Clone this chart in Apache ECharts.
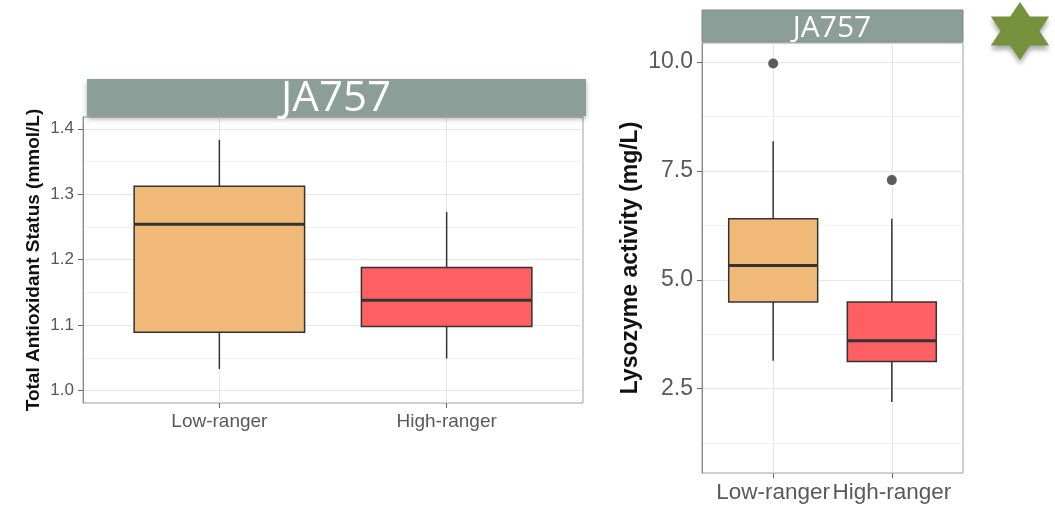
<!DOCTYPE html>
<html>
<head>
<meta charset="utf-8">
<script src="https://cdn.jsdelivr.net/npm/echarts@6/dist/echarts.min.js"></script>
<style>
html,body{margin:0;padding:0;background:#fff;}
#chart{width:1055px;height:506px;}
</style>
</head>
<body>
<div id="chart"></div>
<script>
// ---- data ----
const categories = ['Low-ranger', 'High-ranger'];
const panelTitle = 'JA757';
// [lower whisker, Q1, median, Q3, upper whisker]
const tasStats = [
  [1.033, 1.089, 1.254, 1.312, 1.383],
  [1.049, 1.098, 1.138, 1.188, 1.273]
];
const lysoStats = [
  [3.14, 4.49, 5.33, 6.40, 8.18],
  [2.19, 3.12, 3.60, 4.49, 6.40]
];
const lysoOutliers = [[1, 9.97], [2, 7.29]];
const tasTicks = [1.0, 1.1, 1.2, 1.3, 1.4];
const tasMinor = [1.05, 1.15, 1.25, 1.35];
const lysoTicks = [2.5, 5.0, 7.5, 10.0];
const lysoMinor = [1.25, 3.75, 6.25, 8.75];
const catPositions = [1, 2];

// ---- styles ----
const boxColors = ['#F0B978', '#FD5F62'];
const stripColor = '#8B9E98';
const labelColor = '#595959';
const gridMajor = '#E6E6E6';
const gridMinor = '#F3F3F3';
const FONT = 'Liberation Sans, Arial, sans-serif';

function boxRender(params, api) {
  const x = api.value(0);
  const lo = api.coord([x, api.value(1)]);
  const q1 = api.coord([x, api.value(2)]);
  const md = api.coord([x, api.value(3)]);
  const q3 = api.coord([x, api.value(4)]);
  const hi = api.coord([x, api.value(5)]);
  const w = api.size([0.75, 0])[0];
  const cx = q1[0];
  const stroke = '#333333';
  return {
    type: 'group',
    children: [
      {type: 'line', shape: {x1: cx, y1: hi[1], x2: cx, y2: q3[1]}, style: {stroke: stroke, lineWidth: 1.5}},
      {type: 'line', shape: {x1: cx, y1: q1[1], x2: cx, y2: lo[1]}, style: {stroke: stroke, lineWidth: 1.5}},
      {type: 'rect', shape: {x: cx - w / 2, y: q3[1], width: w, height: q1[1] - q3[1]},
        style: {fill: boxColors[params.dataIndex], stroke: stroke, lineWidth: 1.5}},
      {type: 'line', shape: {x1: cx - w / 2, y1: md[1], x2: cx + w / 2, y2: md[1]}, style: {stroke: stroke, lineWidth: 3}}
    ]
  };
}

function xAxisCfg(gridIndex, fontSize, margin) {
  return {
    type: 'value', gridIndex: gridIndex, min: 0.4, max: 2.6,
    axisLine: {show: false},
    axisTick: {show: true, customValues: catPositions, length: 5, lineStyle: {color: '#666', width: 1}},
    axisLabel: {customValues: catPositions, color: labelColor, fontSize: fontSize, margin: margin,
      fontFamily: FONT, hideOverlap: false, showMinLabel: true, showMaxLabel: true,
      formatter: v => categories[Math.round(v) - 1]},
    splitLine: {show: true, lineStyle: {color: gridMajor, width: 1}}
  };
}

function yAxisCfg(gridIndex, min, max, ticks, name, nameFont, nameGap, fontSize) {
  return {
    type: 'value', gridIndex: gridIndex, min: min, max: max,
    name: name, nameLocation: 'middle', nameGap: nameGap,
    nameTextStyle: {color: '#111', fontWeight: 'bold', fontSize: nameFont, fontFamily: FONT},
    axisLine: {show: true, lineStyle: {color: '#8a8a8a', width: 1}},
    axisTick: {show: true, customValues: ticks, length: 5, lineStyle: {color: '#666', width: 1}},
    axisLabel: {customValues: ticks, color: labelColor, fontSize: fontSize, margin: 9,
      fontFamily: FONT,
      formatter: v => v.toFixed(1)},
    splitLine: {show: true, lineStyle: {color: gridMajor, width: 1}}
  };
}

function yMinorCfg(gridIndex, min, max, minor) {
  return {
    type: 'value', gridIndex: gridIndex, min: min, max: max, position: 'left',
    axisLine: {show: false},
    axisTick: {show: false, customValues: minor},
    axisLabel: {show: false, customValues: minor},
    splitLine: {show: true, lineStyle: {color: gridMinor, width: 1}}
  };
}

// star decoration points
function starPoints(cx, cy, r, sx) {
  const pts = [];
  for (let i = 0; i < 12; i++) {
    const ang = (-90 + i * 30) * Math.PI / 180;
    const rad = i % 2 === 0 ? r : r / Math.sqrt(3);
    pts.push([cx + Math.cos(ang) * rad * sx, cy + Math.sin(ang) * rad]);
  }
  return pts;
}

const chart = echarts.init(document.getElementById('chart'), null, {renderer: 'canvas'});
const option = {
  backgroundColor: '#ffffff',
  animation: false,
  grid: [
    {left: 83, top: 117, width: 500, height: 286, show: true, borderColor: '#a0a0a0', borderWidth: 1, backgroundColor: '#fff'},
    {left: 702, top: 43, width: 261, height: 430, show: true, borderColor: '#a0a0a0', borderWidth: 1, backgroundColor: '#fff'}
  ],
  xAxis: [
    xAxisCfg(0, 19, 9),
    xAxisCfg(1, 22.5, 8)
  ],
  yAxis: [
    yAxisCfg(0, 0.981, 1.418, tasTicks, 'Total Antioxidant Status (mmol/L)', 19, 40, 17),
    yMinorCfg(0, 0.981, 1.418, tasMinor),
    yAxisCfg(1, 0.56, 10.44, lysoTicks, 'Lysozyme activity (mg/L)', 23, 60, 23),
    yMinorCfg(1, 0.56, 10.44, lysoMinor)
  ],
  series: [
    {
      type: 'custom', xAxisIndex: 0, yAxisIndex: 0, z: 5,
      renderItem: boxRender,
      encode: {x: 0, y: [1, 2, 3, 4, 5]},
      data: tasStats.map((s, i) => [catPositions[i]].concat(s))
    },
    {
      type: 'custom', xAxisIndex: 1, yAxisIndex: 2, z: 5,
      renderItem: boxRender,
      encode: {x: 0, y: [1, 2, 3, 4, 5]},
      data: lysoStats.map((s, i) => [catPositions[i]].concat(s))
    },
    {
      type: 'scatter', xAxisIndex: 1, yAxisIndex: 2, z: 6,
      symbol: 'circle', symbolSize: 10,
      itemStyle: {color: '#333333'},
      data: lysoOutliers
    }
  ],
  graphic: [
    {type: 'rect', shape: {x: 87, y: 79, width: 499, height: 37}, z: 10,
      style: {fill: stripColor, shadowBlur: 5, shadowOffsetY: 3, shadowColor: 'rgba(0,0,0,0.3)'}},
    {type: 'text', x: 336, y: 99, z: 11,
      style: {text: panelTitle, fill: '#ffffff', font: '42px "Open Sans", sans-serif', textAlign: 'center', textVerticalAlign: 'middle'}},
    {type: 'rect', shape: {x: 702, y: 10, width: 261, height: 32}, z: 10,
      style: {fill: stripColor, stroke: '#7a8a85', lineWidth: 1}},
    {type: 'text', x: 832, y: 28, z: 11,
      style: {text: panelTitle, fill: '#ffffff', font: '30px "Open Sans", sans-serif', textAlign: 'center', textVerticalAlign: 'middle'}},
    {type: 'polygon', z: 10, shape: {points: starPoints(1020, 31, 29, 1.16)},
      style: {fill: '#76923C', shadowBlur: 5, shadowOffsetY: 4, shadowColor: 'rgba(0,0,0,0.35)'}}
  ]
};
chart.setOption(option);
</script>
</body>
</html>
